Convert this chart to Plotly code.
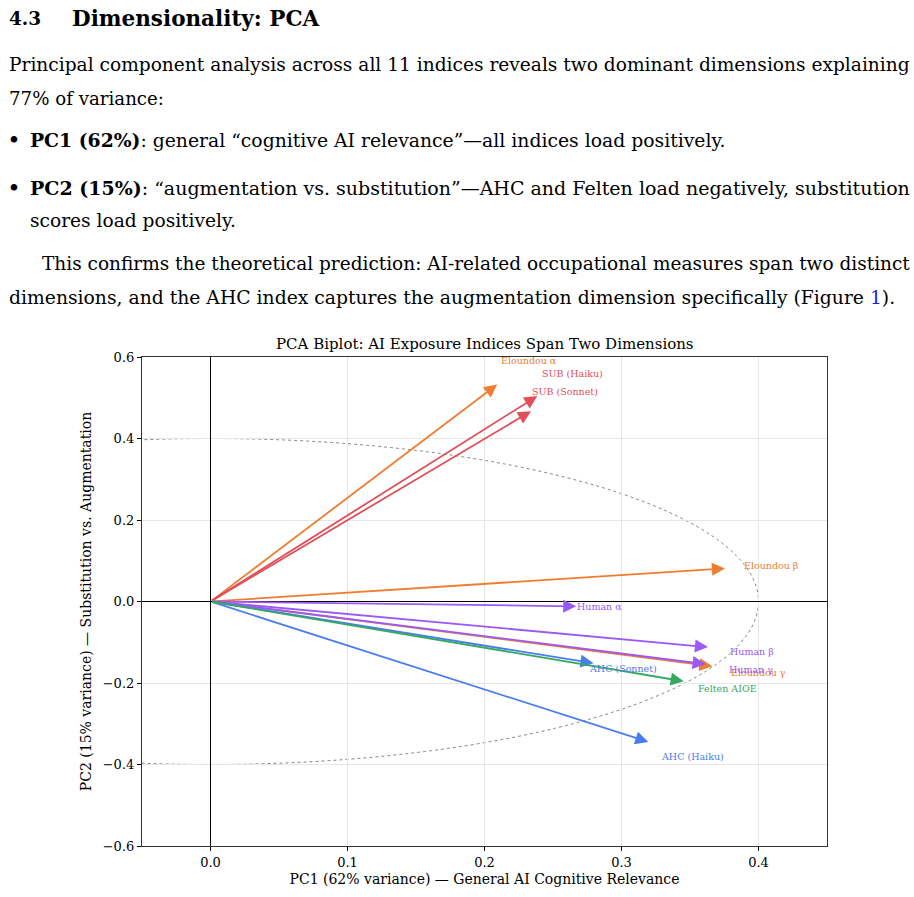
import math
import plotly.graph_objects as go

# ---- data ----
index_names = ["Eloundou α", "Eloundou β", "Eloundou γ",
               "Human α", "Human β", "Human γ",
               "SUB (Haiku)", "SUB (Sonnet)",
               "AHC (Haiku)", "AHC (Sonnet)", "Felten AIOE"]
pc1_loadings = [0.202, 0.356, 0.348, 0.247, 0.344, 0.343, 0.230, 0.225, 0.306, 0.262, 0.328]
pc2_loadings = [0.514, 0.077, -0.151, -0.011, -0.106, -0.146, 0.486, 0.449, -0.330, -0.142, -0.186]
index_colors = ["#F07C30", "#F07C30", "#F07C30",
                "#9B59F6", "#9B59F6", "#9B59F6",
                "#E0505A", "#E0505A",
                "#4A7CF0", "#4A7CF0", "#35A862"]
x_ticks = [0.0, 0.1, 0.2, 0.3, 0.4]
y_ticks = [-0.6, -0.4, -0.2, 0.0, 0.2, 0.4, 0.6]
circle_radius = 0.4

W, H = 914, 897
L, R, T, B = 142, 827, 357, 848
SERIF = "DejaVu Serif"
DOC = "DejaVu Serif"

def px(xp):
    return (xp - L) / (R - L)

def py(yp):
    return (B - yp) / (B - T)

fig = go.Figure()

# reference circle
fig.add_shape(type="circle", xref="x", yref="y",
              x0=-circle_radius, x1=circle_radius, y0=-circle_radius, y1=circle_radius,
              line=dict(color="#666666", width=0.8, dash="dot"), layer="below")

# invisible trace to set up axes
fig.add_trace(go.Scatter(x=[0], y=[0], mode="markers", marker=dict(size=0.1, opacity=0),
                         showlegend=False, hoverinfo="skip"))

annotations = []
head_len = 0.02
for name, a, b, col in zip(index_names, pc1_loadings, pc2_loadings, index_colors):
    n = math.hypot(a, b)
    tx, ty = a + head_len * a / n, b + head_len * b / n
    annotations.append(dict(x=tx, y=ty, ax=0, ay=0, xref="x", yref="y",
                            axref="x", ayref="y", text="", showarrow=True,
                            arrowhead=2, arrowsize=1.45, arrowwidth=1.8,
                            arrowcolor=col, standoff=0, startstandoff=0))
for name, a, b, col in zip(index_names, pc1_loadings, pc2_loadings, index_colors):
    annotations.append(dict(x=a * 1.15, y=b * 1.15, xref="x", yref="y", text=name,
                            showarrow=False, xanchor="center", yanchor="middle",
                            font=dict(family=SERIF, size=9.5, color=col)))

# chart title
annotations.append(dict(x=px(485), y=py(344), xref="paper", yref="paper",
                        text="PCA Biplot: AI Exposure Indices Span Two Dimensions",
                        showarrow=False, xanchor="center", yanchor="middle",
                        font=dict(family=SERIF, size=15, color="black")))

# document text
def doc(xp, yp, text, size=18.6):
    annotations.append(dict(x=px(xp), y=py(yp), xref="paper", yref="paper", text=text,
                            showarrow=False, xanchor="left", yanchor="middle",
                            font=dict(family=DOC, size=size, color="black")))

doc(7, 17, "<b>4.3</b>", 18.5)
doc(70, 17, "<b>Dimensionality: PCA</b>", 21.5)
doc(7, 63, "Principal component analysis across all 11 indices reveals two dominant dimensions explaining")
doc(7, 97, "77% of variance:", 18.2)
doc(6, 139, "<b>•</b>")
doc(28, 139, "<b>PC1 (62%)</b>: general “cognitive AI relevance”—all indices load positively.", 18.8)
doc(6, 187, "<b>•</b>")
doc(28, 187, "<b>PC2 (15%)</b>: “augmentation vs. substitution”—AHC and Felten load negatively, substitution", 19.0)
doc(28, 220, "scores load positively.")
doc(40, 263, "This confirms the theoretical prediction: AI-related occupational measures span two distinct", 18.5)
doc(7, 297, "dimensions, and the AHC index captures the augmentation dimension specifically (Figure <span style='color:#1a1aff'>1</span>).", 18.75)

def fmt(v):
    s = f"{v:.1f}"
    return s.replace("-", "−")

fig.update_layout(
    width=W, height=H,
    margin=dict(l=L, r=W - R, t=T, b=H - B, pad=0),
    paper_bgcolor="white", plot_bgcolor="white",
    showlegend=False,
    annotations=annotations,
    xaxis=dict(range=[-0.05, 0.45], tickvals=x_ticks, ticktext=[fmt(v) for v in x_ticks],
               showgrid=True, gridcolor="#e6e6e6", gridwidth=1,
               zeroline=True, zerolinecolor="black", zerolinewidth=1,
               showline=True, linecolor="#333333", linewidth=1.2, mirror=True,
               ticks="outside", ticklen=4, tickcolor="black",
               tickfont=dict(family=SERIF, size=13, color="black"),
               title=dict(text="PC1 (62% variance) — General AI Cognitive Relevance",
                          font=dict(family=SERIF, size=14, color="black"), standoff=5)),
    yaxis=dict(range=[-0.6, 0.6], tickvals=y_ticks, ticktext=[fmt(v) for v in y_ticks],
               showgrid=True, gridcolor="#e6e6e6", gridwidth=1,
               zeroline=True, zerolinecolor="black", zerolinewidth=1,
               showline=True, linecolor="#333333", linewidth=1.2, mirror=True,
               ticks="outside", ticklen=4, tickcolor="black",
               tickfont=dict(family=SERIF, size=13, color="black"),
               title=dict(text="PC2 (15% variance) — Substitution vs. Augmentation",
                          font=dict(family=SERIF, size=14, color="black"), standoff=7)),
)

fig.write_html("out.html")
